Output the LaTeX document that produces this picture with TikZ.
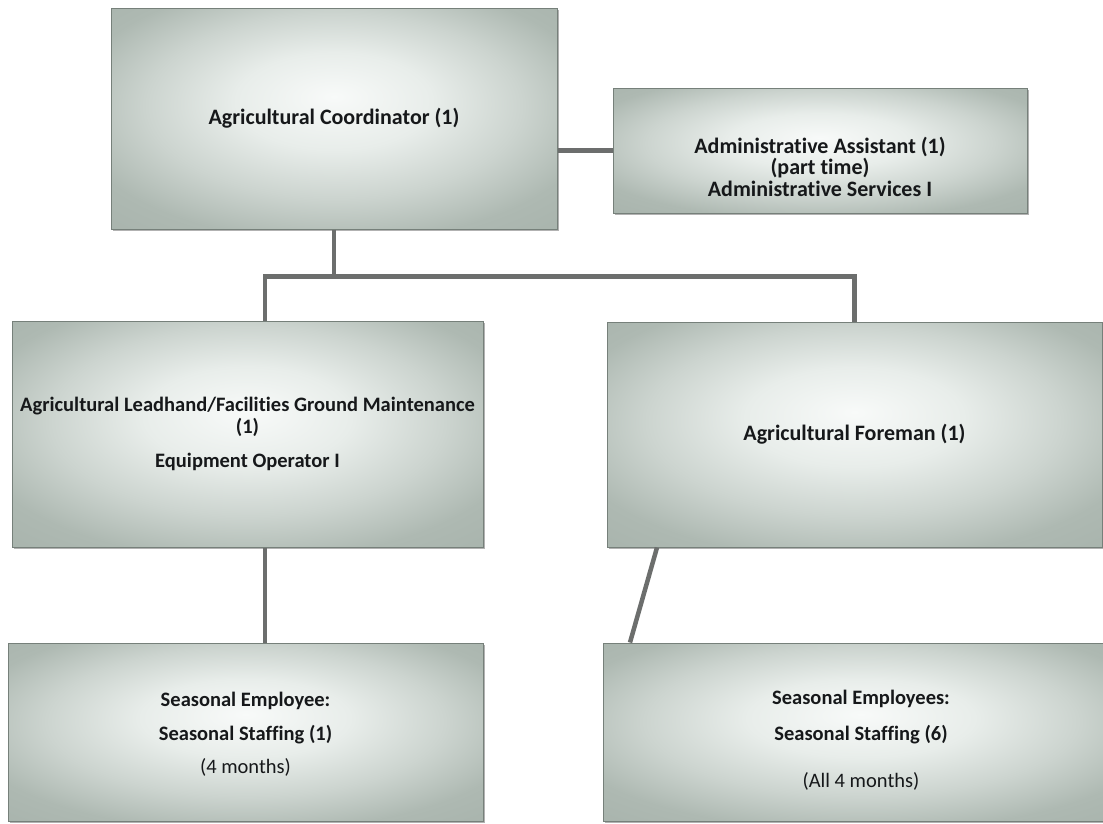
\documentclass[tikz,border=0pt]{standalone}
\usepackage{fontspec}
\setmainfont{Carlito}[Ligatures={NoCommon}]
\usetikzlibrary{shadows}
\definecolor{c0}{RGB}{248,250,249}
\definecolor{c1}{RGB}{232,237,234}
\definecolor{c2}{RGB}{204,212,207}
\definecolor{c3}{RGB}{174,185,178}
\definecolor{c4}{RGB}{158,170,163}
\definecolor{bordc}{RGB}{118,128,122}
\definecolor{linec}{RGB}{108,110,109}
\definecolor{txtc}{RGB}{22,24,26}
\pgfdeclareradialshading{boxshade}{\pgfpoint{0bp}{5bp}}{color(0bp)=(c0); color(11bp)=(c1); color(21bp)=(c2); color(30bp)=(c3); color(50bp)=(c4)}
\tikzset{
  orgbox/.style={rectangle, inner sep=0pt, draw=bordc, line width=1pt, shading=boxshade,
    drop shadow={shadow xshift=1.5pt, shadow yshift=-2pt, opacity=0.3, fill=black}},
  lbl/.style={inner sep=0pt, align=center, text=txtc, font=\bfseries\fontsize{22}{21.5}\selectfont},
  lblsm/.style={lbl, font=\bfseries\fontsize{20.5}{21.5}\selectfont},
  conn/.style={draw=linec, line width=4.5pt}
}
\begin{document}
\begin{tikzpicture}[x=1pt,y=-1pt]
\useasboundingbox (0,0) rectangle (1103,823);
\clip (0,0) rectangle (1103,823);
% boxes
\node[orgbox, minimum width=446pt, minimum height=221pt] (coord) at (334,118.5) {};
\node[orgbox, minimum width=414pt, minimum height=125pt] (admin) at (820,150.5) {};
\node[orgbox, minimum width=471pt, minimum height=226pt] (lead) at (247.5,434) {};
\node[orgbox, minimum width=495pt, minimum height=225pt] (fore) at (854.5,434.5) {};
\node[orgbox, minimum width=475pt, minimum height=178pt] (seasa) at (245.5,732) {};
\node[orgbox, minimum width=516pt, minimum height=178pt] (seasb) at (861,732) {};
% labels
\node[lbl] (coordT) at (coord.center) {Agricultural Coordinator (1)};
\node[lbl] (adminT) at ([yshift=-16pt]admin.center) {Administrative Assistant (1)\\(part time)\\Administrative Services I};
\node[lblsm] (leadT) at ([yshift=0pt]lead.center) {Agricultural Leadhand/Facilities Ground Maintenance\\(1)\\[13pt]Equipment Operator I};
\node[lbl] (foreT) at (fore.center) {Agricultural Foreman (1)};
\node[lblsm] (seasaT) at ([yshift=-2pt]seasa.center) {Seasonal Employee:\\[13pt]Seasonal Staffing (1)\\[11pt]{\mdseries (4 months)}};
\node[lblsm] (seasbT) at ([yshift=-8pt]seasb.center) {Seasonal Employees:\\[15pt]Seasonal Staffing (6)\\[25pt]{\mdseries (All 4 months)}};
% connectors
\coordinate (j) at ([yshift=-47pt]coord.south);
\draw[conn] (admin.west) -- (admin.west -| coord.east);
\draw[conn] (coord.south) -- (j);
\draw[conn] ([xshift=17.5pt]lead.north) |- (j) -| (fore.north);
\draw[conn] ([xshift=17.5pt]lead.south) -- ([xshift=19.5pt]seasa.north);
\draw[conn] ([xshift=-197.5pt]fore.south) -- ([xshift=-231pt]seasb.north);
\end{tikzpicture}
\end{document}
